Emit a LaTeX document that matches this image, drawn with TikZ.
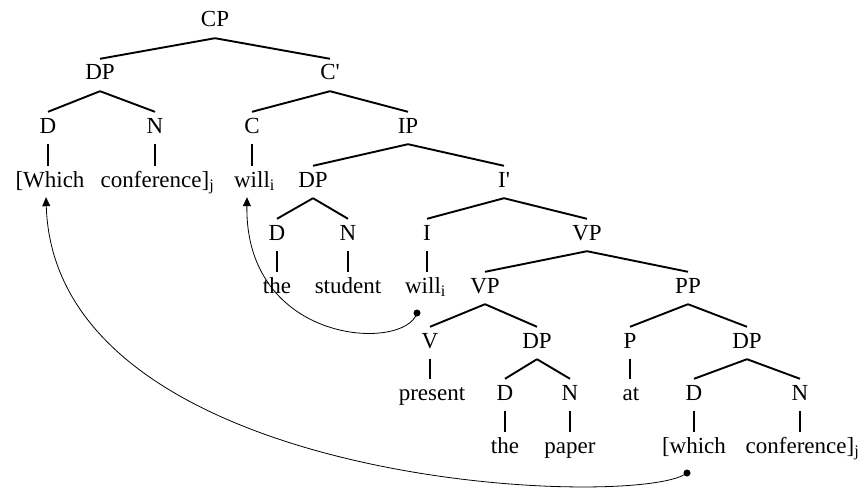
\documentclass[tikz,border=0pt]{standalone}
\usepackage{fontspec}
\setmainfont{Liberation Serif}
\usetikzlibrary{arrows.meta}
\tikzset{
  lab/.style={font=\fontsize{23}{27}\selectfont, inner sep=0pt, text height=15pt, text depth=0pt, anchor=base},
  treeline/.style={line width=1.9pt},
  moveline/.style={line width=0.8pt, -{Triangle[length=9pt,width=8pt]}},
  dotmark/.style={fill=black, circle, inner sep=0pt, minimum size=7pt}
}
\newcommand\tbranch[2]{\draw[treeline] ([yshift=-11pt]#1.south) -- ([yshift=6pt]#2.north);}
\newcommand\tvert[2]{\draw[treeline] ([yshift=-11pt]#1.south) -- ([yshift=6pt]#1.south |- #2.north);}
\begin{document}
\begin{tikzpicture}[x=1pt,y=-1pt]
\useasboundingbox (0,0) rectangle (860,495);
% row 1
\node[lab] (cp) at (215,27) {CP};
% row 2
\node[lab] (dp1) at (100,80) {DP};
\node[lab] (cbar) at (330,80) {C\textquotesingle};
% row 3
\node[lab] (d1) at (48,133) {D};
\node[lab] (n1) at (155,133) {N};
\node[lab] (c1) at (252,133) {C};
\node[lab] (ip) at (408,133) {IP};
% row 4
\node[lab] (which1) at (50,187) {[Which};
\node[lab] (conf1) at (155,187) {conference]\rlap{\textsubscript{j}}};
\node[lab] (will1) at (252,187) {will\rlap{\textsubscript{i}}};
\node[lab] (dp2) at (313,187) {DP};
\node[lab] (ibar) at (504,187) {I\textquotesingle};
% row 5
\node[lab] (d2) at (277,240) {D};
\node[lab] (n2) at (348,240) {N};
\node[lab] (i1) at (427,240) {I};
\node[lab] (vp1) at (587,240) {VP};
% row 6
\node[lab] (the1) at (277,293) {the};
\node[lab] (student) at (348,293) {student};
\node[lab] (will2) at (423,293) {will\rlap{\textsubscript{i}}};
\node[lab] (vp2) at (485,293) {VP};
\node[lab] (pp) at (688,293) {PP};
% row 7
\node[lab] (v) at (430,348) {V};
\node[lab] (dp3) at (537,348) {DP};
\node[lab] (p) at (630,348) {P};
\node[lab] (dp4) at (747,348) {DP};
% row 8
\node[lab] (present) at (432,400) {present};
\node[lab] (d3) at (505,400) {D};
\node[lab] (n3) at (570,400) {N};
\node[lab] (at) at (631,400) {at};
\node[lab] (d4) at (694,400) {D};
\node[lab] (n4) at (800,400) {N};
% row 9
\node[lab] (the2) at (505,453) {the};
\node[lab] (paper) at (570,453) {paper};
\node[lab] (which2) at (694,453) {[which};
\node[lab] (conf2) at (800,453) {conference]\rlap{\textsubscript{j}}};
% branches
\tbranch{cp}{dp1}\tbranch{cp}{cbar}
\tbranch{dp1}{d1}\tbranch{dp1}{n1}
\tbranch{cbar}{c1}\tbranch{cbar}{ip}
\tvert{d1}{which1}\tvert{n1}{conf1}\tvert{c1}{will1}
\tbranch{ip}{dp2}\tbranch{ip}{ibar}
\tbranch{dp2}{d2}\tbranch{dp2}{n2}
\tbranch{ibar}{i1}\tbranch{ibar}{vp1}
\tvert{d2}{the1}\tvert{n2}{student}\tvert{i1}{will2}
\tbranch{vp1}{vp2}\tbranch{vp1}{pp}
\tbranch{vp2}{v}\tbranch{vp2}{dp3}
\tbranch{pp}{p}\tbranch{pp}{dp4}
\tvert{v}{present}\tvert{p}{at}
\tbranch{dp3}{d3}\tbranch{dp3}{n3}
\tbranch{dp4}{d4}\tbranch{dp4}{n4}
\tvert{d3}{the2}\tvert{n3}{paper}
\tvert{d4}{which2}\tvert{n4}{conf2}
% movement arrows
\node[dotmark] (dot1) at (417,313) {};
\node[dotmark] (dot2) at (687,473) {};
\draw[moveline] (dot1.center) .. controls (405,352) and (245,345) .. ([xshift=-5pt,yshift=-10pt]will1.south);
\draw[moveline] (dot2.center) .. controls (640,510) and (55,490) .. ([xshift=-4pt,yshift=-10pt]which1.south);
\end{tikzpicture}
\end{document}
